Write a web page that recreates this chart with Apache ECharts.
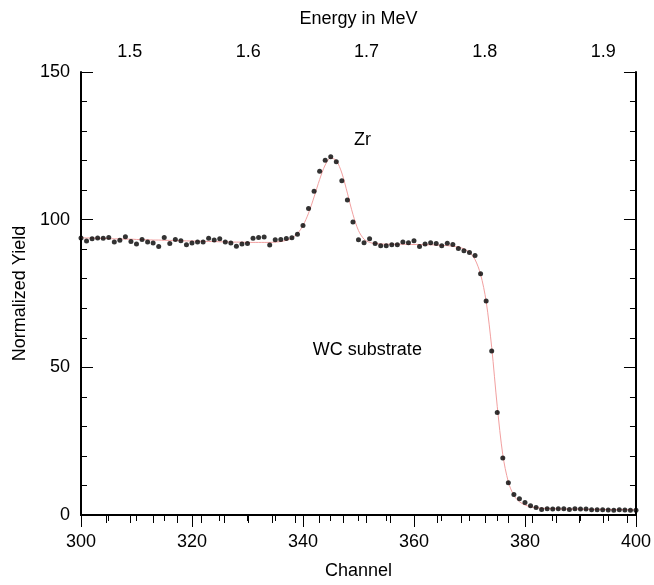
<!DOCTYPE html>
<html><head><meta charset="utf-8">
<script src="https://cdn.jsdelivr.net/npm/echarts@6/dist/echarts.min.js"></script>
<style>html,body{margin:0;padding:0;background:#fff}#c{width:654px;height:585px}</style>
</head><body><div id="c"></div>
<script>
const channels = [300,301,302,303,304,305,306,307,308,309,310,311,312,313,314,315,316,317,318,319,
320,321,322,323,324,325,326,327,328,329,330,331,332,333,334,335,336,337,338,339,
340,341,342,343,344,345,346,347,348,349,350,351,352,353,354,355,356,357,358,359,
360,361,362,363,364,365,366,367,368,369,370,371,372,373,374,375,376,377,378,379,
380,381,382,383,384,385,386,387,388,389,390,391,392,393,394,395,396,397,398,399,400];

const yieldData = [93.8,92.8,93.5,93.8,93.7,94.0,92.4,93.0,94.2,92.6,
91.8,93.3,92.4,92.1,90.9,94.0,91.9,93.3,92.9,91.5,
92.1,92.4,92.4,93.7,93.1,93.5,92.4,92.1,91.0,91.8,
91.9,93.7,94.0,94.1,91.4,93.2,93.3,93.6,93.9,95.1,
98.0,103.8,109.6,116.4,120.1,121.3,119.6,113.2,106.7,99.2,
93.2,92.2,93.5,91.9,91.2,91.2,91.5,91.5,92.4,92.2,
92.9,90.9,91.8,92.2,91.9,91.2,92.0,91.6,90.2,89.5,
88.9,87.9,81.7,72.5,55.5,34.7,19.3,10.9,6.9,5.5,
4.2,3.1,2.5,1.9,2.1,2.0,2.1,2.1,1.9,2.1,
2.0,2.0,1.8,1.8,1.8,1.7,1.6,1.8,1.7,1.6,1.6];

const fitData = [93.9,93.8,93.8,93.7,93.7,93.6,93.5,93.5,93.4,93.4,
93.3,93.2,93.2,93.1,93.1,93.0,93.0,92.9,92.9,92.8,
92.8,92.7,92.7,92.6,92.6,92.5,92.5,92.4,92.4,92.4,
92.3,92.3,92.3,92.3,92.3,92.4,92.6,93.0,93.8,95.3,
98.0,102.2,107.7,113.6,118.5,120.9,120.0,115.8,109.0,101.8,
96.3,93.4,92.3,91.9,91.8,91.7,91.7,91.7,91.7,91.6,
91.6,91.6,91.5,91.5,91.4,91.3,91.2,91.0,90.7,90.1,
88.9,86.5,81.5,72.4,56.8,36.8,20.4,11.2,6.6,4.5,
3.4,2.8,2.5,2.3,2.2,2.1,2.1,2.0,2.0,2.0,
2.0,1.9,1.9,1.9,1.9,1.8,1.8,1.8,1.8,1.8,1.7];

const energyTicks = [1.48,1.50,1.52,1.54,1.56,1.58,1.60,1.62,1.64,1.66,1.68,1.70,1.72,1.74,1.76,1.78,1.80,1.82,1.84,1.86,1.88,1.90,1.92];
const energyLabels = [1.5,1.6,1.7,1.8,1.9];
const annotations = [
  {text:'Zr', ch:350.7, y:127.0},
  {text:'WC substrate', ch:351.6, y:55.7}
];

const FONT = '"Liberation Sans", Arial, Helvetica, sans-serif';
const FS = 18;
const axisLine = {show:true, lineStyle:{color:'#000', width:2}};
const tickStyle = {color:'#000', width:1};

const chart = echarts.init(document.getElementById('c'), null, {renderer:'canvas'});
const option = {
  animation:false,
  backgroundColor:'#fff',
  textStyle:{fontFamily:FONT},
  grid:{left:81, right:17, top:72, bottom:63, containLabel:false},
  xAxis:[
    {type:'value', position:'bottom', min:300, max:400, interval:20,
     name:'Channel', nameLocation:'middle', nameGap:47,
     nameTextStyle:{fontSize:FS, color:'#000', fontFamily:FONT},
     axisLine:axisLine,
     axisTick:{show:true, inside:false, length:12, lineStyle:tickStyle},
     minorTick:{show:true, splitNumber:4, length:6, lineStyle:tickStyle},
     axisLabel:{fontSize:FS, color:'#000', margin:18, fontFamily:FONT},
     splitLine:{show:false}},
    {type:'value', position:'top', min:1.4587, max:1.9277,
     name:'Energy in MeV', nameLocation:'middle', nameGap:44,
     nameTextStyle:{fontSize:FS, color:'#000', fontFamily:FONT},
     axisLine:axisLine,
     axisTick:{show:true, inside:true, length:8, lineStyle:tickStyle, customValues:energyTicks},
     axisLabel:{fontSize:FS, color:'#000', margin:11, fontFamily:FONT, customValues:energyLabels,
       formatter:v=>v.toFixed(1)},
     splitLine:{show:false}},
  ],
  yAxis:[
    {type:'value', position:'left', min:0, max:150, interval:50,
     name:'Normalized Yield', nameLocation:'middle', nameGap:50,
     nameTextStyle:{fontSize:FS, color:'#000', fontFamily:FONT},
     axisLine:axisLine,
     axisTick:{show:true, inside:true, length:12, lineStyle:tickStyle},
     minorTick:{show:true, splitNumber:5, length:6, lineStyle:tickStyle},
     axisLabel:{fontSize:FS, color:'#000', margin:11, fontFamily:FONT},
     splitLine:{show:false}},
    {type:'value', position:'right', min:0, max:150, interval:50,
     axisLine:axisLine,
     axisTick:{show:true, inside:true, length:12, lineStyle:tickStyle},
     minorTick:{show:true, splitNumber:5, length:6, lineStyle:tickStyle},
     axisLabel:{show:false},
     splitLine:{show:false}}
  ],
  series:[
    {type:'line', name:'fit', xAxisIndex:0, yAxisIndex:0,
     data:channels.map((c,i)=>[c, fitData[i]]),
     smooth:0.3, showSymbol:false, symbol:'none',
     lineStyle:{color:'#f2a0a0', width:1}, z:2},
    {type:'scatter', name:'data', xAxisIndex:0, yAxisIndex:0,
     data:channels.map((c,i)=>[c, yieldData[i]]),
     symbol:'circle', symbolSize:5, itemStyle:{color:'#000'}, z:3}
  ]
};
chart.setOption(option);
const g = annotations.map(a=>{
  const p = chart.convertToPixel({xAxisIndex:0, yAxisIndex:0}, [a.ch, a.y]);
  return {type:'text', x:p[0], y:p[1], z:10,
    style:{text:a.text, fill:'#000', font:FS+'px '+FONT, align:'center', verticalAlign:'middle'}};
});
chart.setOption({graphic:g});
</script>
</body></html>
